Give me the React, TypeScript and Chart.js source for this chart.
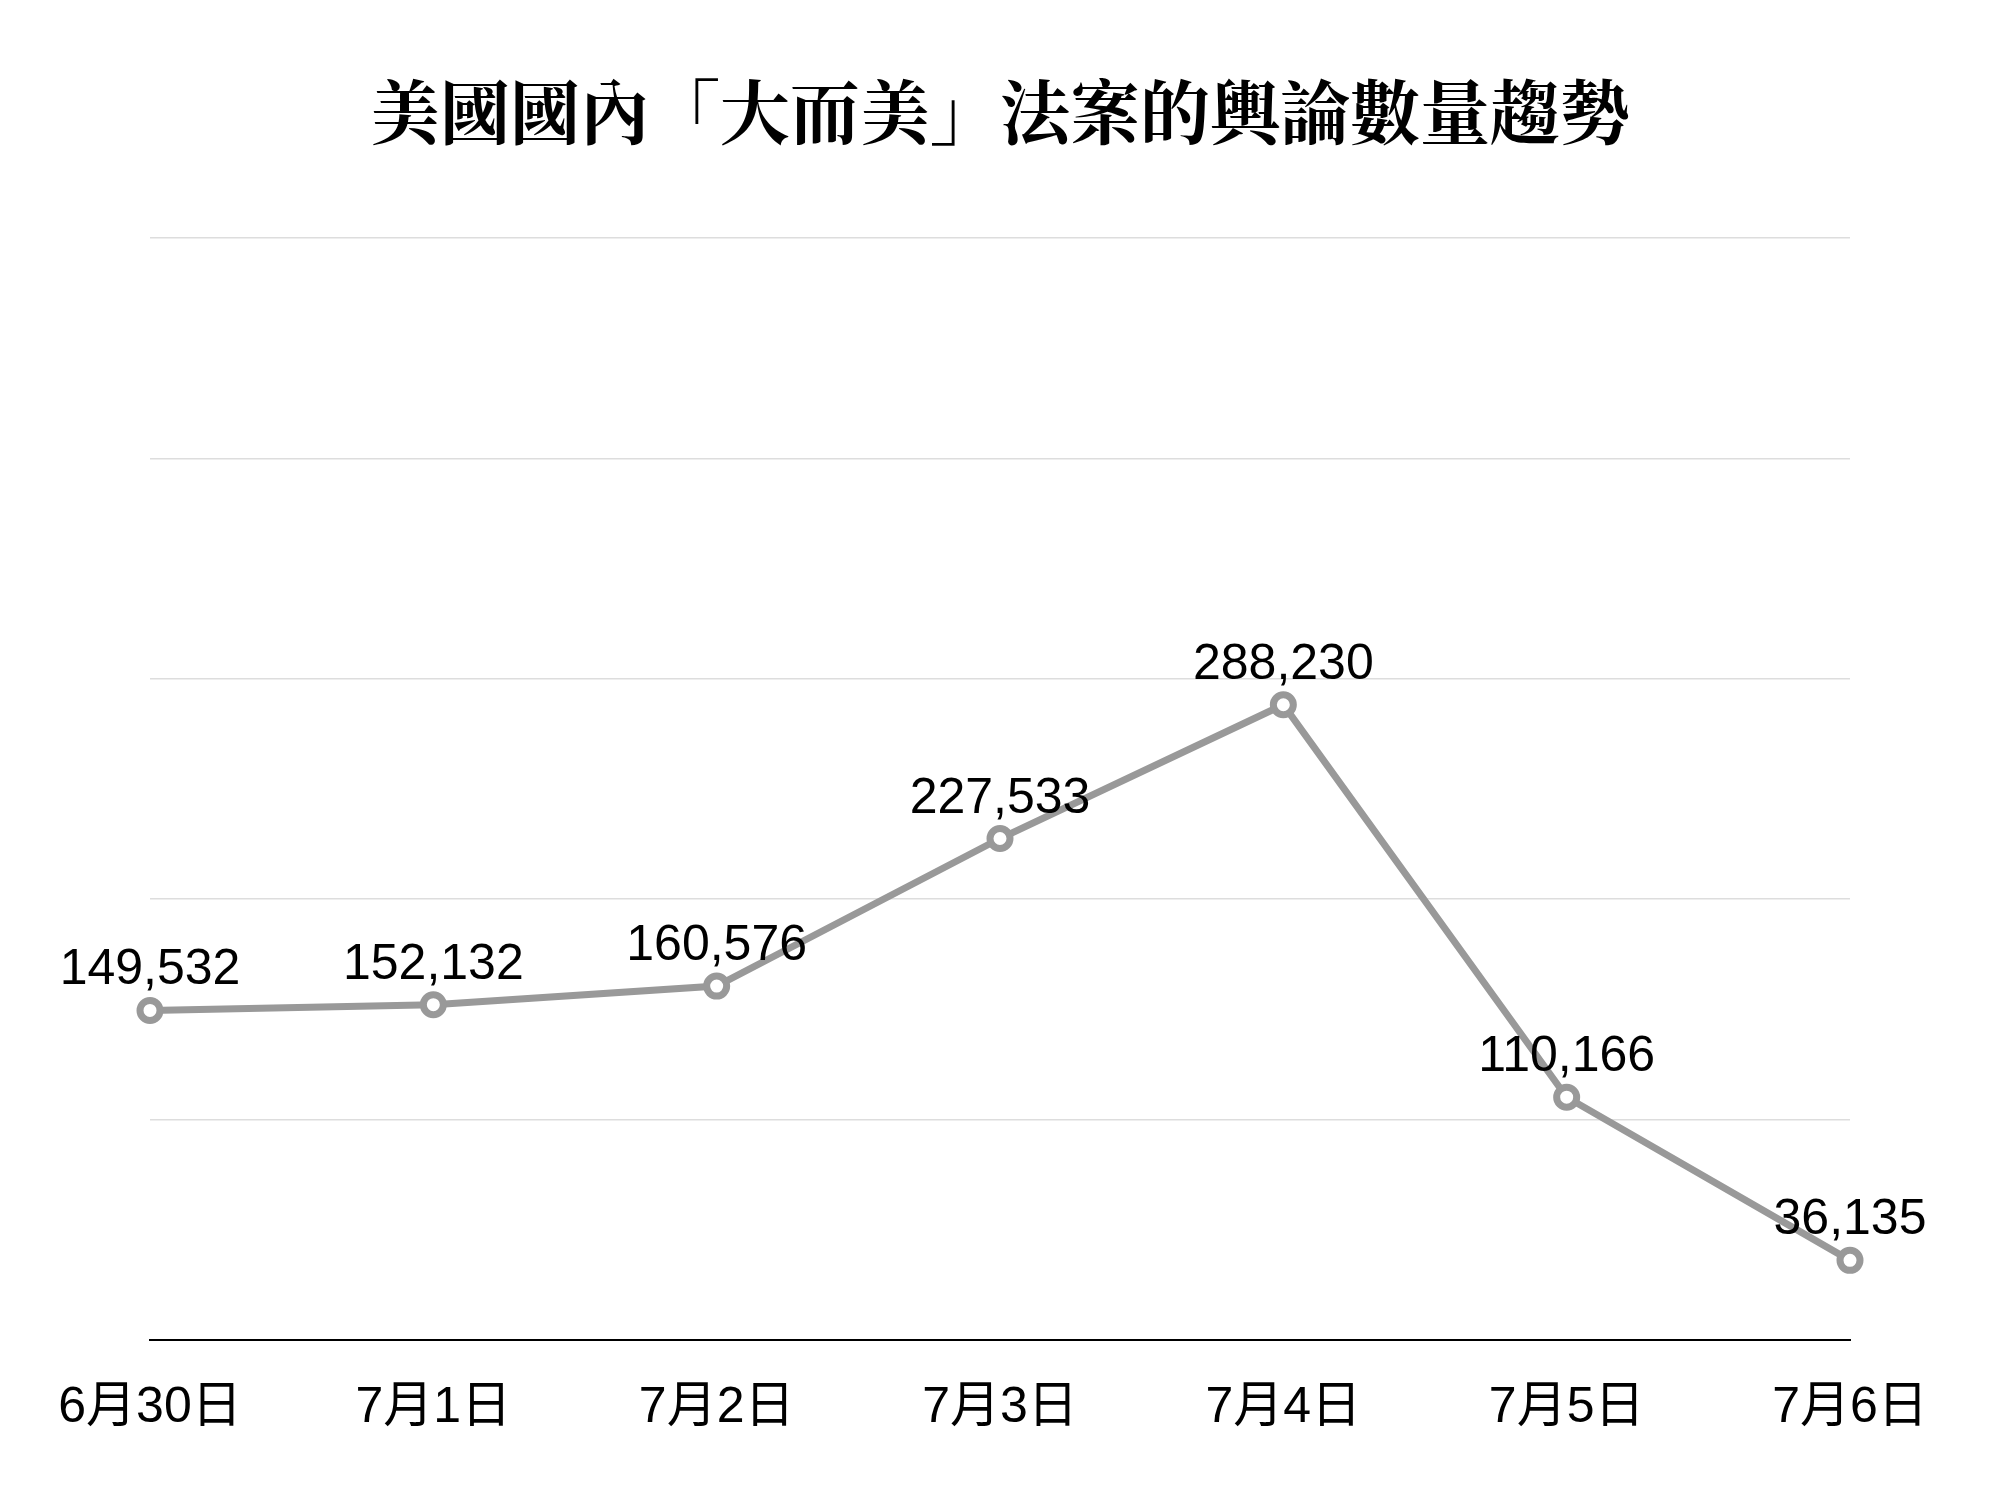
import React, { useEffect, useRef } from "react";
import { Chart, registerables } from "chart.js";

Chart.register(...registerables);

const TITLE = "美國國內「大而美」法案的輿論數量趨勢";
const dates = ["6月30日", "7月1日", "7月2日", "7月3日", "7月4日", "7月5日", "7月6日"];
const mentions = [149532, 152132, 160576, 227533, 288230, 110166, 36135];
const yMax = 500000;
const yStep = 100000;

const LATIN = '"Liberation Sans", Arial, "Noto Sans CJK TC", sans-serif';
const TITLE_FONT = '"Noto Serif CJK TC", "Noto Sans CJK TC", serif';

const fmt = (v: number) => v.toLocaleString("en-US");

// Draws the title text and the value above each point.
const annotate = {
  id: "annotate",
  afterDatasetsDraw(chart: any) {
    const { ctx } = chart;
    ctx.save();
    ctx.fillStyle = "#000";
    ctx.textAlign = "center";
    ctx.textBaseline = "middle";
    ctx.font = `700 70px ${TITLE_FONT}`;
    ctx.fillText(TITLE, chart.width / 2, 112);

    const meta = chart.getDatasetMeta(0);
    ctx.font = `50px ${LATIN}`;
    ctx.textBaseline = "alphabetic";
    meta.data.forEach((pt: any, i: number) => {
      ctx.fillText(fmt(mentions[i]), pt.x, pt.y - 26);
    });
    ctx.restore();
  },
};

export default function App() {
  const ref = useRef<HTMLCanvasElement>(null);

  useEffect(() => {
    if (!ref.current) return;
    const chart = new Chart(ref.current, {
      type: "line",
      data: {
        labels: dates,
        datasets: [
          {
            data: mentions,
            borderColor: "#999999",
            borderWidth: 7,
            pointRadius: 10,
            pointBorderWidth: 7,
            pointBackgroundColor: "#ffffff",
            pointBorderColor: "#999999",
            tension: 0,
          },
        ],
      },
      options: {
        responsive: false,
        animation: false,
        layout: { padding: { left: 150, right: 150, top: 238, bottom: 24 } },
        plugins: {
          legend: { display: false },
          title: { display: false },
          tooltip: { enabled: false },
        },
        scales: {
          x: {
            offset: false,
            grid: { display: false, drawTicks: false },
            border: { display: true, color: "#000000", width: 2 },
            ticks: {
              color: "#000",
              font: { size: 50, family: LATIN },
              padding: 38,
              maxRotation: 0,
              autoSkip: false,
            },
          },
          y: {
            min: 0,
            max: yMax,
            grid: { color: "#dddddd", lineWidth: 1.5, drawTicks: false },
            border: { display: false },
            ticks: { display: false, stepSize: yStep },
          },
        },
      },
      plugins: [annotate],
    });
    return () => chart.destroy();
  }, []);

  return (
    <div style={{ position: "fixed", left: 0, top: 0, width: 2000, height: 1500, background: "#fff" }}>
      <canvas ref={ref} width={2000} height={1500} />
    </div>
  );
}
